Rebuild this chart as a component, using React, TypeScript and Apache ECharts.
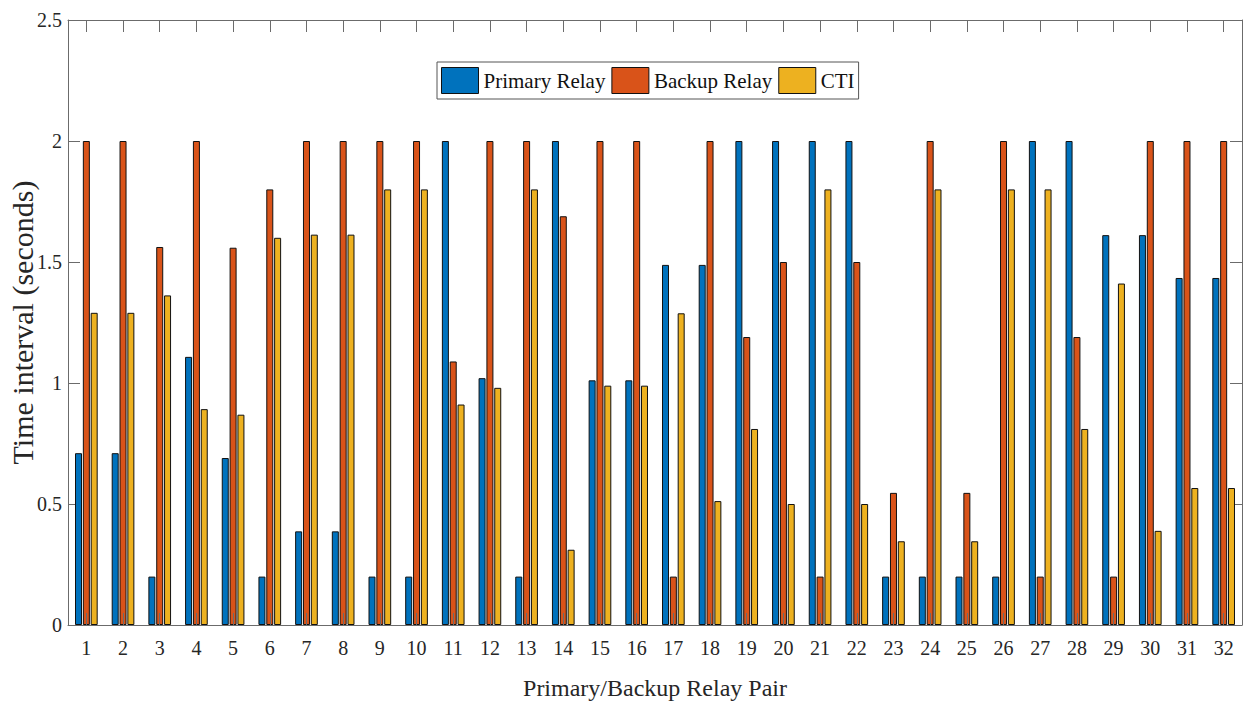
import React, { useEffect, useRef } from "react";
import * as echarts from "echarts";

const categories = ["1","2","3","4","5","6","7","8","9","10","11","12","13","14","15","16","17","18","19","20","21","22","23","24","25","26","27","28","29","30","31","32"];
const primaryRelay = [0.71,0.71,0.2,1.108,0.69,0.2,0.387,0.387,0.2,0.2,2,1.02,0.2,2,1.011,1.011,1.488,1.488,2,2,2,2,0.2,0.2,0.2,0.2,2,2,1.611,1.611,1.434,1.434];
const backupRelay = [2,2,1.562,2,1.559,1.8,2,2,2,2,1.089,2,2,1.689,2,2,0.2,2,1.19,1.5,0.2,1.5,0.546,2,0.546,2,0.2,1.19,0.2,2,2,2];
const cti = [1.29,1.29,1.362,0.892,0.869,1.6,1.613,1.613,1.8,1.8,0.911,0.98,1.8,0.311,0.989,0.989,1.288,0.512,0.81,0.5,1.8,0.5,0.346,1.8,0.346,1.8,1.8,0.81,1.411,0.389,0.566,0.566];
const seriesNames = ["Primary Relay", "Backup Relay", "CTI"];
const colors = ["#0072BD", "#D95319", "#EDB120"];

const FONT = '"Liberation Serif", "Times New Roman", serif';
const AXIS_COLOR = "#6b6b6b";
const TEXT_COLOR = "#262626";

export default function App() {
  const ref = useRef<HTMLDivElement>(null);
  useEffect(() => {
    if (!ref.current) return;
    const chart = echarts.init(ref.current, null, { renderer: "svg" });
    const dataSets = [primaryRelay, backupRelay, cti];
    chart.setOption({
      animation: false,
      backgroundColor: "#ffffff",
      grid: { left: 68, right: 2, top: 20, bottom: 81, outerBoundsMode: "none", containLabel: false },
      legend: {
        data: seriesNames,
        icon: "rect",
        left: 437,
        top: 62,
        orient: "horizontal",
        itemWidth: 37,
        itemHeight: 26,
        itemGap: 6,
        padding: [5, 4, 5, 4],
        borderColor: "#555",
        borderWidth: 1,
        textStyle: { fontFamily: FONT, fontSize: 21, color: "#111" },
        itemStyle: { borderWidth: 1, borderColor: "#111" },
      },
      xAxis: [
        {
          type: "category",
          data: categories,
          position: "bottom",
          z: 5,
          axisLine: { show: true, lineStyle: { color: AXIS_COLOR, width: 1 } },
          axisTick: { show: true, inside: true, length: 12, alignWithLabel: true, lineStyle: { color: AXIS_COLOR } },
          axisLabel: { fontFamily: FONT, fontSize: 20, color: TEXT_COLOR, margin: 13 },
          name: "Primary/Backup Relay Pair",
          nameLocation: "middle",
          nameMoveOverlap: false,
          nameGap: 51,
          nameTextStyle: { fontFamily: FONT, fontSize: 24, color: TEXT_COLOR },
          splitLine: { show: false },
        },
        {
          type: "category",
          data: categories,
          position: "top",
          axisLine: { show: true, onZero: false, lineStyle: { color: AXIS_COLOR, width: 1 } },
          axisTick: { show: true, inside: true, length: 12, alignWithLabel: true, lineStyle: { color: AXIS_COLOR } },
          axisLabel: { show: false },
          splitLine: { show: false },
        },
      ],
      yAxis: [
        {
          type: "value",
          min: 0,
          max: 2.5,
          interval: 0.5,
          position: "left",
          axisLine: { show: true, lineStyle: { color: AXIS_COLOR, width: 1 } },
          axisTick: { show: true, inside: true, length: 12, lineStyle: { color: AXIS_COLOR } },
          axisLabel: { fontFamily: FONT, fontSize: 20, color: TEXT_COLOR, margin: 6 },
          splitLine: { show: false },
          name: "Time interval (seconds)",
          nameLocation: "middle",
          nameMoveOverlap: false,
          nameGap: 31,
          nameTextStyle: { fontFamily: FONT, fontSize: 30, color: TEXT_COLOR },
        },
        {
          type: "value",
          min: 0,
          max: 2.5,
          interval: 0.5,
          position: "right",
          axisLine: { show: true, lineStyle: { color: AXIS_COLOR, width: 1 } },
          axisTick: { show: true, inside: true, length: 12, lineStyle: { color: AXIS_COLOR } },
          axisLabel: { show: false },
          splitLine: { show: false },
        },
      ],
      series: seriesNames.map((name, i) => ({
        name,
        type: "bar",
        xAxisIndex: 0,
        yAxisIndex: 0,
        data: dataSets[i],
        barWidth: 7,
        barGap: "12%",
        itemStyle: { color: colors[i], borderColor: "#111", borderWidth: 1 },
      })),
    });
    return () => chart.dispose();
  }, []);
  return (
    <div
      ref={ref}
      style={{ position: "absolute", left: 0, top: 0, width: 1244, height: 706, background: "#fff" }}
    />
  );
}
